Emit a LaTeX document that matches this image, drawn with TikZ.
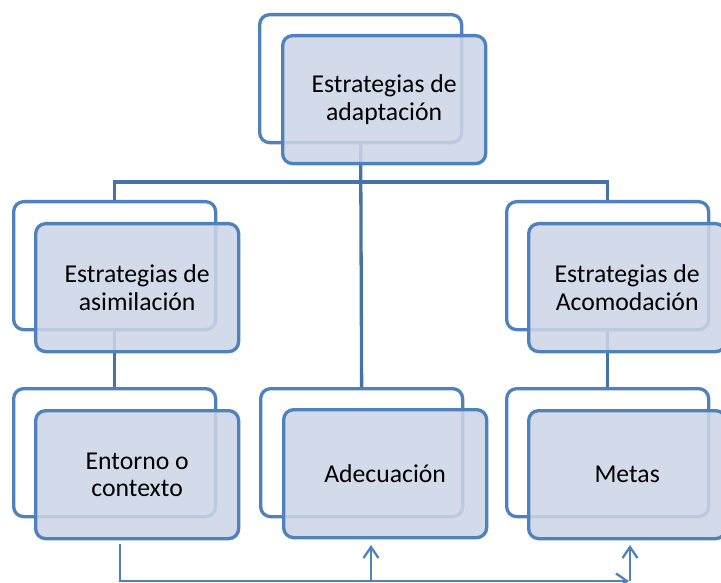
\documentclass[tikz,border=0pt]{standalone}
\usepackage{fontspec}
\setmainfont{Carlito}
\usetikzlibrary{arrows.meta}
\definecolor{edgeblue}{RGB}{79,129,189}
\definecolor{linkblue}{RGB}{70,114,170}
\definecolor{boxfill}{RGB}{205,213,230}
\tikzset{
  backbox/.style={draw=edgeblue, line width=3.3pt, rounded corners=10pt, fill=none,
    minimum width=202pt, minimum height=128pt, anchor=north west, inner sep=0pt},
  frontbox/.style={draw=edgeblue, line width=3.3pt, rounded corners=10pt, fill=boxfill,
    fill opacity=0.87, text opacity=1, minimum width=203pt, minimum height=128pt,
    anchor=north west, inner sep=0pt, align=center,
    font=\fontsize{25.7pt}{27.5pt}\selectfont},
  conn/.style={draw=linkblue, line width=3.3pt},
  thinconn/.style={draw=edgeblue, line width=2.3pt},
  tip/.style={-{Straight Barb[length=11pt,width=15pt,line width=2.3pt]}}
}
\begin{document}
\begin{tikzpicture}[x=1pt,y=-1pt]
\useasboundingbox (0,0) rectangle (721,583);
\clip (0,0) rectangle (721,583);
% back boxes
\node[backbox] (topB) at (258,13) {};
\node[backbox] (lmB) at (12,200) {};
\node[backbox] (rmB) at (505,200) {};
\node[backbox] (blB) at (12,387) {};
\node[backbox] (bmB) at (259,387) {};
\node[backbox] (brB) at (505,387) {};
% connectors
\coordinate (bus) at (0,182);
\draw[conn] (topB.south) -- (topB.south |- bus);
\draw[conn] (lmB.north) -- (lmB.north |- bus) -- (rmB.north |- bus) -- (rmB.north);
\draw[conn] (topB.south) -- (bmB.north);
\draw[conn] (lmB.south) -- (blB.north);
\draw[conn] (rmB.south) -- (brB.north);
% front boxes
\node[frontbox] (topF) at (281,34) {Estrategias de\\adaptación};
\node[frontbox] (lmF) at (34,222) {Estrategias de\\asimilación};
\node[frontbox, minimum width=197pt] (rmF) at (527,222) {Estrategias de\\Acomodación};
\node[frontbox] (blF) at (34,409) {Entorno o\\contexto};
\node[frontbox] (bmF) at (282,408) {Adecuación};
\node[frontbox, minimum width=197pt] (brF) at (527,409) {Metas};
% bottom arrows
\coordinate (a0) at (120,544);
\coordinate (a1) at (120,581);
\coordinate (a2) at (629,581);
\draw[thinconn, tip] (a0) -- (a1) -- (a2);
\coordinate (b0) at (371,581);
\coordinate (b1) at (371,545);
\draw[thinconn, tip] (b0) -- (b1);
\coordinate (c0) at (630,581);
\coordinate (c1) at (630,545);
\draw[thinconn, tip] (c0) -- (c1);
\end{tikzpicture}
\end{document}
